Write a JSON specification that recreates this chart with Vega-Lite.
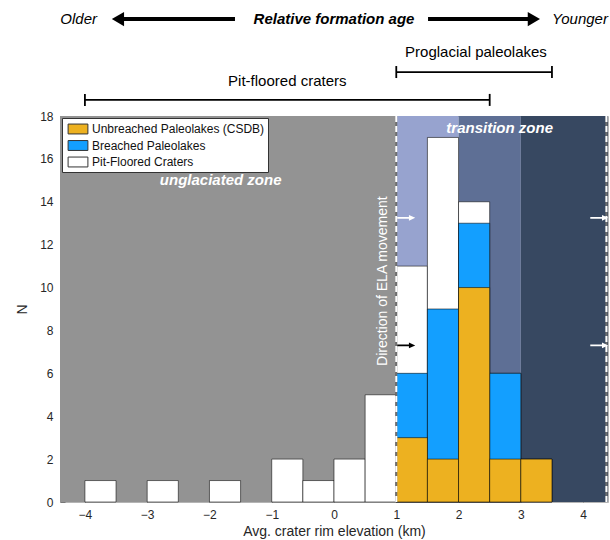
{
  "$schema": "https://vega.github.io/schema/vega-lite/v6.json",
  "width": 548,
  "height": 386,
  "autosize": {"type": "none"},
  "padding": {"left": 60, "top": 116, "right": 2, "bottom": 38},
  "background": "white",
  "config": {
    "font": "Liberation Sans",
    "view": {"stroke": "#b4b4b4", "strokeWidth": 1},
    "axis": {
      "grid": false,
      "domain": false,
      "labelFont": "Liberation Sans",
      "titleFont": "Liberation Sans",
      "labelFontSize": 12,
      "titleFontSize": 14,
      "titleFontWeight": "normal",
      "labelColor": "#262626",
      "titleColor": "#262626",
      "tickColor": "#777777",
      "tickSize": -5,
      "labelPadding": 12
    }
  },
  "datasets": {
    "zones": [
      {"zone": "unglaciated", "z0": -4.4, "z1": 1},
      {"zone": "transition lower", "z0": 1, "z1": 2},
      {"zone": "transition upper", "z0": 2, "z1": 3},
      {"zone": "glaciated", "z0": 3, "z1": 4.4}
    ],
    "bars": [
      {"x0": -4, "x1": -3.5, "series": "Pit-Floored Craters", "n": 1},
      {"x0": -3, "x1": -2.5, "series": "Pit-Floored Craters", "n": 1},
      {"x0": -2, "x1": -1.5, "series": "Pit-Floored Craters", "n": 1},
      {"x0": -1, "x1": -0.5, "series": "Pit-Floored Craters", "n": 2},
      {"x0": -0.5, "x1": 0, "series": "Pit-Floored Craters", "n": 1},
      {"x0": 0, "x1": 0.5, "series": "Pit-Floored Craters", "n": 2},
      {"x0": 0.5, "x1": 1, "series": "Pit-Floored Craters", "n": 5},
      {"x0": 1, "x1": 1.5, "series": "Pit-Floored Craters", "n": 11},
      {"x0": 1.5, "x1": 2, "series": "Pit-Floored Craters", "n": 17},
      {"x0": 2, "x1": 2.5, "series": "Pit-Floored Craters", "n": 14},
      {"x0": 2.5, "x1": 3, "series": "Pit-Floored Craters", "n": 6},
      {"x0": 3, "x1": 3.5, "series": "Pit-Floored Craters", "n": 2},
      {"x0": 1, "x1": 1.5, "series": "Breached Paleolakes", "n": 6},
      {"x0": 1.5, "x1": 2, "series": "Breached Paleolakes", "n": 9},
      {"x0": 2, "x1": 2.5, "series": "Breached Paleolakes", "n": 13},
      {"x0": 2.5, "x1": 3, "series": "Breached Paleolakes", "n": 6},
      {"x0": 1, "x1": 1.5, "series": "Unbreached Paleolakes (CSDB)", "n": 3},
      {"x0": 1.5, "x1": 2, "series": "Unbreached Paleolakes (CSDB)", "n": 2},
      {"x0": 2, "x1": 2.5, "series": "Unbreached Paleolakes (CSDB)", "n": 10},
      {"x0": 2.5, "x1": 3, "series": "Unbreached Paleolakes (CSDB)", "n": 2},
      {"x0": 3, "x1": 3.5, "series": "Unbreached Paleolakes (CSDB)", "n": 2}
    ],
    "edges": [{"xe": 1}, {"xe": 4.375}],
    "zoneLabels": [
      {"label": "unglaciated zone", "x": -1.82, "y": 15.0},
      {"label": "transition zone", "x": 2.66, "y": 17.45}
    ],
    "elaLabel": [{"label": "Direction of ELA movement", "x": 0.79, "y": 10.3}],
    "whiteArrows": [
      {"x": 1.16, "y": 13.25},
      {"x": 4.26, "y": 13.25},
      {"x": 4.26, "y": 7.3}
    ],
    "blackArrows": [{"x": 1.16, "y": 7.3}],
    "ageTitle": [{"label": "Relative formation age", "x": 0, "y": 22.52}],
    "ageEnds": [
      {"label": "Older", "x": -4.1, "y": 22.52},
      {"label": "Younger", "x": 3.95, "y": 22.52}
    ],
    "ageShafts": [
      {"a": -3.42, "b": -1.59, "y": 22.52},
      {"a": 1.51, "b": 3.16, "y": 22.52}
    ],
    "headLeft": [{"x": -3.47, "y": 22.52}],
    "headRight": [{"x": 3.21, "y": 22.52}],
    "rangeLabels": [
      {"label": "Proglacial paleolakes", "x": 2.28, "y": 21.0},
      {"label": "Pit-floored craters", "x": -0.75, "y": 19.62}
    ],
    "brackets": [
      {"a": 1, "b": 3.5, "y": 20.05},
      {"a": -4, "b": 2.5, "y": 18.75}
    ],
    "bracketEnds": [
      {"x": 1, "y": 20.05},
      {"x": 3.5, "y": 20.05},
      {"x": -4, "y": 18.75},
      {"x": 2.5, "y": 18.75}
    ]
  },
  "layer": [
    {
      "data": {"name": "zones"},
      "mark": {"type": "rect"},
      "encoding": {
        "x": {
          "field": "z0",
          "type": "quantitative",
          "scale": {"domain": [-4.4, 4.4], "nice": false, "zero": false},
          "axis": {"values": [-4, -3, -2, -1, 0, 1, 2, 3, 4], "format": "d", "labelPadding": 12, "title": "Avg. crater rim elevation (km)"},
          "title": "Avg. crater rim elevation (km)"
        },
        "x2": {"field": "z1"},
        "y": {
          "datum": 0,
          "type": "quantitative",
          "scale": {"domain": [0, 18], "nice": false},
          "title": "N"
        },
        "y2": {"datum": 18},
        "fill": {
          "field": "zone",
          "type": "nominal",
          "scale": {
            "domain": ["unglaciated", "transition lower", "transition upper", "glaciated"],
            "range": ["#939393", "#97A3CF", "#5E6F95", "#374861"]
          },
          "legend": null
        }
      }
    },
    {
      "data": {"name": "bars"},
      "mark": {"type": "bar", "stroke": "#000000", "strokeOpacity": 0.55, "strokeWidth": 1},
      "encoding": {
        "x": {"field": "x0", "type": "quantitative", "title": "Avg. crater rim elevation (km)"},
        "x2": {"field": "x1"},
        "y": {
          "field": "n",
          "type": "quantitative",
          "stack": null,
          "title": "N",
          "axis": {"values": [0, 2, 4, 6, 8, 10, 12, 14, 16, 18], "format": "d", "labelPadding": 12, "title": "N", "titlePadding": 10}
        },
        "y2": {"datum": 0},
        "color": {
          "field": "series",
          "type": "nominal",
          "scale": {
            "domain": ["Unbreached Paleolakes (CSDB)", "Breached Paleolakes", "Pit-Floored Craters"],
            "range": ["#EDB120", "#139FFF", "#FFFFFF"]
          },
          "legend": {
            "title": null,
            "orient": "top-left",
            "offset": 2,
            "padding": 3,
            "fillColor": "#FFFFFF",
            "strokeColor": "#333333",
            "labelFontSize": 12,
            "labelColor": "#111111",
            "labelFont": "Liberation Sans",
            "labelLimit": 400,
            "symbolType": "M-1.4,-0.7H1.4V0.7H-1.4Z",
            "symbolSize": 200,
            "symbolStrokeColor": "#333333",
            "symbolStrokeWidth": 1,
            "symbolOpacity": 1,
            "rowPadding": 1.5,
            "labelOffset": 6,
            "symbolOffset": 5
          }
        }
      }
    },
    {
      "data": {"name": "edges"},
      "mark": {"type": "rule", "color": "#6f6f6f", "strokeWidth": 2},
      "encoding": {"x": {"field": "xe", "type": "quantitative", "title": "Avg. crater rim elevation (km)"}}
    },
    {
      "data": {"name": "edges"},
      "mark": {"type": "rule", "color": "#FFFFFF", "strokeWidth": 2, "strokeDash": [6, 4]},
      "encoding": {"x": {"field": "xe", "type": "quantitative", "title": "Avg. crater rim elevation (km)"}}
    },
    {
      "data": {"name": "elaLabel"},
      "mark": {"type": "text", "angle": 270, "color": "#FFFFFF", "fontSize": 14, "align": "center", "baseline": "middle"},
      "encoding": {
        "x": {"field": "x", "type": "quantitative", "title": "Avg. crater rim elevation (km)"},
        "y": {"field": "y", "type": "quantitative", "title": "N"},
        "text": {"field": "label"}
      }
    },
    {
      "data": {"name": "zoneLabels"},
      "mark": {"type": "text", "color": "#FFFFFF", "fontSize": 15, "fontWeight": "bold", "fontStyle": "italic", "align": "center", "baseline": "middle"},
      "encoding": {
        "x": {"field": "x", "type": "quantitative", "title": "Avg. crater rim elevation (km)"},
        "y": {"field": "y", "type": "quantitative", "title": "N"},
        "text": {"field": "label"}
      }
    },
    {
      "data": {"name": "whiteArrows"},
      "mark": {"type": "point", "shape": "M-1,-0.1L0.3,-0.1L0.3,-0.32L1,0L0.3,0.32L0.3,0.1L-1,0.1Z", "size": 324, "filled": true, "color": "#FFFFFF", "opacity": 1, "strokeWidth": 0},
      "encoding": {
        "x": {"field": "x", "type": "quantitative", "title": "Avg. crater rim elevation (km)"},
        "y": {"field": "y", "type": "quantitative", "title": "N"}
      }
    },
    {
      "data": {"name": "blackArrows"},
      "mark": {"type": "point", "shape": "M-1,-0.1L0.3,-0.1L0.3,-0.32L1,0L0.3,0.32L0.3,0.1L-1,0.1Z", "size": 324, "filled": true, "color": "#000000", "opacity": 1, "strokeWidth": 0},
      "encoding": {
        "x": {"field": "x", "type": "quantitative", "title": "Avg. crater rim elevation (km)"},
        "y": {"field": "y", "type": "quantitative", "title": "N"}
      }
    },
    {
      "data": {"name": "ageTitle"},
      "mark": {"type": "text", "color": "#000000", "fontSize": 15, "fontWeight": "bold", "fontStyle": "italic", "align": "center", "baseline": "middle"},
      "encoding": {
        "x": {"field": "x", "type": "quantitative", "title": "Avg. crater rim elevation (km)"},
        "y": {"field": "y", "type": "quantitative", "title": "N"},
        "text": {"field": "label"}
      }
    },
    {
      "data": {"name": "ageEnds"},
      "mark": {"type": "text", "color": "#000000", "fontSize": 15, "fontStyle": "italic", "align": "center", "baseline": "middle"},
      "encoding": {
        "x": {"field": "x", "type": "quantitative", "title": "Avg. crater rim elevation (km)"},
        "y": {"field": "y", "type": "quantitative", "title": "N"},
        "text": {"field": "label"}
      }
    },
    {
      "data": {"name": "ageShafts"},
      "mark": {"type": "rule", "color": "#000000", "strokeWidth": 4},
      "encoding": {
        "x": {"field": "a", "type": "quantitative", "title": "Avg. crater rim elevation (km)"},
        "x2": {"field": "b"},
        "y": {"field": "y", "type": "quantitative", "title": "N"}
      }
    },
    {
      "data": {"name": "headLeft"},
      "mark": {"type": "point", "shape": "triangle-left", "size": 200, "filled": true, "color": "#000000", "opacity": 1},
      "encoding": {
        "x": {"field": "x", "type": "quantitative", "title": "Avg. crater rim elevation (km)"},
        "y": {"field": "y", "type": "quantitative", "title": "N"}
      }
    },
    {
      "data": {"name": "headRight"},
      "mark": {"type": "point", "shape": "triangle-right", "size": 200, "filled": true, "color": "#000000", "opacity": 1},
      "encoding": {
        "x": {"field": "x", "type": "quantitative", "title": "Avg. crater rim elevation (km)"},
        "y": {"field": "y", "type": "quantitative", "title": "N"}
      }
    },
    {
      "data": {"name": "rangeLabels"},
      "mark": {"type": "text", "color": "#000000", "fontSize": 15, "align": "center", "baseline": "middle"},
      "encoding": {
        "x": {"field": "x", "type": "quantitative", "title": "Avg. crater rim elevation (km)"},
        "y": {"field": "y", "type": "quantitative", "title": "N"},
        "text": {"field": "label"}
      }
    },
    {
      "data": {"name": "brackets"},
      "mark": {"type": "rule", "color": "#000000", "strokeWidth": 1.8},
      "encoding": {
        "x": {"field": "a", "type": "quantitative", "title": "Avg. crater rim elevation (km)"},
        "x2": {"field": "b"},
        "y": {"field": "y", "type": "quantitative", "title": "N"}
      }
    },
    {
      "data": {"name": "bracketEnds"},
      "mark": {"type": "point", "shape": "M0,-1L0,1", "size": 144, "filled": false, "color": "#000000", "strokeWidth": 1.8, "opacity": 1},
      "encoding": {
        "x": {"field": "x", "type": "quantitative", "title": "Avg. crater rim elevation (km)"},
        "y": {"field": "y", "type": "quantitative", "title": "N"}
      }
    }
  ]
}
